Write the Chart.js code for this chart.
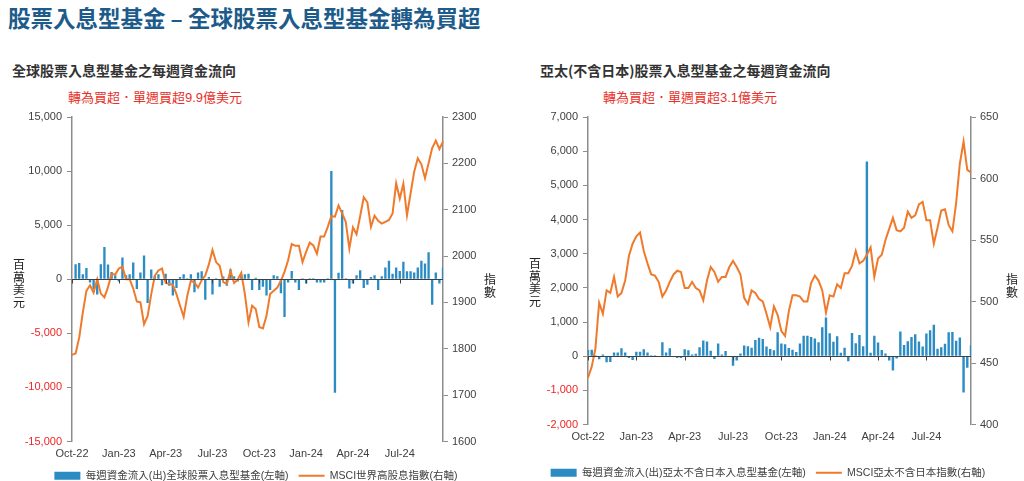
<!DOCTYPE html>
<html>
<head>
<meta charset="utf-8">
<script src="https://cdn.jsdelivr.net/npm/chart.js@4.4.1/dist/chart.umd.min.js"></script>
<style>
  html, body { margin: 0; padding: 0; background: #fff; overflow: hidden; }
  body { width: 1024px; height: 481px; position: relative; font-family: "Liberation Sans", "Noto Sans CJK TC", sans-serif; }
  .abs { position: absolute; white-space: nowrap; }
  #mainTitle { left: 8px; top: 3px; font-size: 22.5px; line-height: 28px; font-weight: bold; color: #1d5b8a; font-family: "Noto Sans CJK TC", sans-serif; }
  .ctitle { top: 61px; font-size: 14px; line-height: 18px; font-weight: bold; color: #333; font-family: "Noto Sans CJK TC", sans-serif; }
  .csub { top: 90px; font-size: 13px; line-height: 16px; color: #e8312a; }
  .vlab { font-size: 12px; line-height: 12.7px; color: #222; width: 14px; text-align: center; font-family: "Noto Sans CJK TC", sans-serif; }
  .vlab span { display: block; }
</style>
</head>
<body>
<div id="mainTitle" class="abs">股票入息型基金 – 全球股票入息型基金轉為買超</div>

<div class="abs ctitle" style="left:12px">全球股票入息型基金之每週資金流向</div>
<div class="abs csub" style="left:68px">轉為買超．單週買超9.9億美元</div>
<div class="abs ctitle" style="left:540px">亞太(不含日本)股票入息型基金之每週資金流向</div>
<div class="abs csub" style="left:603px">轉為買超．單週買超3.1億美元</div>

<div class="abs" style="left:0;top:105px;width:512px;height:386px"><canvas id="left"></canvas></div>
<div class="abs" style="left:512px;top:105px;width:512px;height:383px"><canvas id="right"></canvas></div>

<div class="abs vlab" style="left:12px;top:258px"><span>百</span><span>萬</span><span>美</span><span>元</span></div>
<div class="abs vlab" style="left:483px;top:273px"><span>指</span><span>數</span></div>
<div class="abs vlab" style="left:528px;top:257px"><span>百</span><span>萬</span><span>美</span><span>元</span></div>
<div class="abs vlab" style="left:1005px;top:273px"><span>指</span><span>數</span></div>

<script>
// quarter labels, one every 13 weeks
const quarterTicks = ['Oct-22', 'Jan-23', 'Apr-23', 'Jul-23', 'Oct-23', 'Jan-24', 'Apr-24', 'Jul-24']

// weekly flows (USD mn) - global equity income funds
const globalFlows = [
  -100, 1390, 1500, 460, 1050, -300, -900, -1400, 1390, 2970,
  1360, 680, 370, -200, 2000, 370, 460, 1540, -900, 620,
  2190, -2200, 900, 310, 460, -550, 520, -600, -1500, -800,
  200, 460, 100, 460, -1200, 620, 740, -1900, 200, -1400,
  100, -700, 250, -600, 930, 280, -200, 370, 460, 520,
  -1000, 150, -1000, -700, -1500, -1000, 370, 280, -1300, -3500,
  -300, 770, -300, -1000, 100, -400, 100, 100, -300, -300,
  -300, 100, 10000, -10500, 590, 6400, 100, -850, -400, 370,
  830, -800, -500, 200, 370, -1000, 280, 1080, 1700, 520,
  1080, 770, 1610, 740, 740, 620, 1080, 1700, 1450, 2500,
  -2350, 620, -400, 1080
]
// MSCI World High Dividend index
const globalIndex = [
  1787, 1790, 1824, 1878, 1925, 1937, 1921, 1950, 1919, 1911,
  1933, 1962, 1960, 1973, 1977, 1950, 1950, 1930, 1902, 1900,
  1853, 1871, 1918, 1958, 1969, 1973, 1942, 1940, 1938, 1918,
  1893, 1869, 1914, 1947, 1943, 1932, 1948, 1958, 1982, 2013,
  1987, 1979, 1944, 1940, 1968, 1942, 1949, 1964, 1918, 1857,
  1893, 1886, 1847, 1844, 1871, 1918, 1925, 1932, 1947, 1966,
  1991, 2026, 2022, 2022, 1987, 2009, 2029, 2023, 2005, 2042,
  2042, 2063, 2086, 2085, 2109, 2092, 2074, 2016, 2062, 2047,
  2086, 2127, 2116, 2063, 2087, 2076, 2070, 2074, 2078, 2092,
  2157, 2124, 2156, 2088, 2135, 2182, 2211, 2198, 2168, 2200,
  2233, 2249, 2231, 2247
]

// weekly flows (USD mn) - APAC ex Japan equity income funds
const apacFlows = [
  180, 190, 30, -90, 50, -180, -170, 110, 110, 230,
  110, -50, -110, 130, 130, 200, 110, 30, 30, 0,
  410, 110, 230, 0, -50, -50, 200, 170, 50, 70,
  260, 460, 430, 160, -80, 370, 50, 150, 0, -280,
  -130, 80, 310, 290, 250, 470, 540, 500, 280, 210,
  170, 700, 370, 350, 240, 190, 120, 370, 600, 600,
  560, 520, 410, 850, 1130, 670, 420, 580, 100, 250,
  -150, 680, 380, 620, 290, 5700, 100, 600, 400, 180,
  80, -130, -420, -70, 720, 330, 440, 560, 640, 430,
  280, 660, 760, 920, 220, 260, 360, 700, 710, 450,
  550, -1060, -340, 320
]
// MSCI AC Asia Pacific ex Japan index
const apacIndex = [
  438, 447, 462, 499, 490, 509, 507, 520, 504, 507,
  517, 537, 547, 553, 556, 541, 531, 522, 521, 516,
  504, 509, 516, 522, 525, 524, 511, 511, 516, 511,
  509, 501, 517, 528, 524, 516, 520, 520, 528, 533,
  528, 522, 503, 498, 509, 507, 502, 500, 490, 479,
  496, 489, 476, 472, 492, 505, 505, 504, 500, 500,
  515, 521, 517, 509, 491, 505, 504, 514, 511, 523,
  523, 529, 541, 531, 533, 538, 544, 520, 535, 538,
  550, 559, 568, 558, 557, 560, 573, 568, 570, 579,
  581, 566, 566, 547, 560, 574, 575, 562, 557, 580,
  612, 630, 607, 605
]

const weekLabels = globalFlows.map((v, i) => i % 13 === 0 ? quarterTicks[i / 13] : '')

Chart.defaults.font.family = "'Liberation Sans', 'Noto Sans CJK TC', sans-serif"
Chart.defaults.font.size = 11
Chart.defaults.color = '#404040'
Chart.defaults.animation = false

const BLUE = '#2b8cc4'
const ORANGE = '#f07a2b'
const RED = '#ee2424'
const AXIS = '#8c8c8c'

// zero line plus small ticks on it at each quarter
const zeroTicks = {
  id: 'zeroTicks',
  afterDatasetsDraw(chart) {
    const x = chart.scales.x, y = chart.scales.y
    const y0 = Math.round(y.getPixelForValue(0)) + 0.5
    const ctx = chart.ctx
    ctx.save()
    ctx.strokeStyle = '#404040'
    ctx.lineWidth = 1
    ctx.beginPath()
    ctx.moveTo(x.left, y0)
    ctx.lineTo(x.right, y0)
    weekLabels.forEach((l, i) => {
      if (l) {
        const px = Math.round(x.getPixelForValue(i)) + 0.5
        ctx.moveTo(px, y0)
        ctx.lineTo(px, y0 + 4)
      }
    })
    ctx.stroke()
    ctx.restore()
  }
}

function makeChart(id, flows, index, flowName, indexName, o) {
  const ctx = document.getElementById(id)
  return new Chart(ctx, {
    type: 'bar',
    data: {
      labels: weekLabels,
      datasets: [
        {
          type: 'bar',
          label: flowName,
          data: flows,
          backgroundColor: BLUE,
          borderWidth: 0,
          barPercentage: 0.65,
          categoryPercentage: 1,
          yAxisID: 'y',
          pointStyle: 'rect',
          order: 1
        },
        {
          type: 'line',
          label: indexName,
          data: index,
          borderColor: ORANGE,
          backgroundColor: ORANGE,
          borderWidth: 2,
          pointRadius: 0,
          tension: 0,
          yAxisID: 'y1',
          pointStyle: 'line',
          order: 0
        }
      ]
    },
    options: {
      responsive: true,
      maintainAspectRatio: false,
      layout: { padding: { top: 12, left: 0, right: 0, bottom: 0 } },
      plugins: {
        tooltip: { enabled: false },
        legend: {
          position: 'bottom',
          labels: {
            usePointStyle: true,
            pointStyleWidth: 26,
            boxHeight: 8,
            padding: 10,
            color: '#404040',
            font: { size: 10.5 },
            sort: (a, b) => a.datasetIndex - b.datasetIndex
          }
        }
      },
      scales: {
        x: {
          offset: false,
          grid: { display: false, drawTicks: false },
          border: { display: false },
          ticks: { autoSkip: false, maxRotation: 0, padding: 6, color: '#404040' },
          afterFit: s => { s.height = o.xh }
        },
        y: {
          position: 'left',
          min: o.min, max: o.max,
          ticks: {
            stepSize: o.step,
            padding: 5,
            color: c => c.tick.value < 0 ? RED : '#404040',
            callback: v => v.toLocaleString('en-US')
          },
          grid: { color: 'rgba(0,0,0,0)', tickColor: AXIS, tickLength: 5 },
          border: { color: AXIS, width: 1.5 },
          afterFit: s => { s.width = o.yw }
        },
        y1: {
          position: 'right',
          min: o.min1, max: o.max1,
          ticks: { stepSize: o.step1, padding: 4, color: '#404040', callback: v => String(v) },
          grid: { drawOnChartArea: false, tickColor: AXIS, tickLength: 5 },
          border: { color: AXIS, width: 1.5 },
          afterFit: s => { s.width = o.y1w }
        }
      }
    },
    plugins: [zeroTicks]
  })
}

makeChart('left', globalFlows, globalIndex,
  '每週資金流入(出)全球股票入息型基金(左軸)', 'MSCI世界高股息指數(右軸)',
  { min: -15000, max: 15000, step: 5000, min1: 1600, max1: 2300, step1: 100, yw: 72, y1w: 69, xh: 19 })

makeChart('right', apacFlows, apacIndex,
  '每週資金流入(出)亞太不含日本入息型基金(左軸)', 'MSCI亞太不含日本指數(右軸)',
  { min: -2000, max: 7000, step: 1000, min1: 400, max1: 650, step1: 50, yw: 76, y1w: 53, xh: 33 })
</script>
</body>
</html>
